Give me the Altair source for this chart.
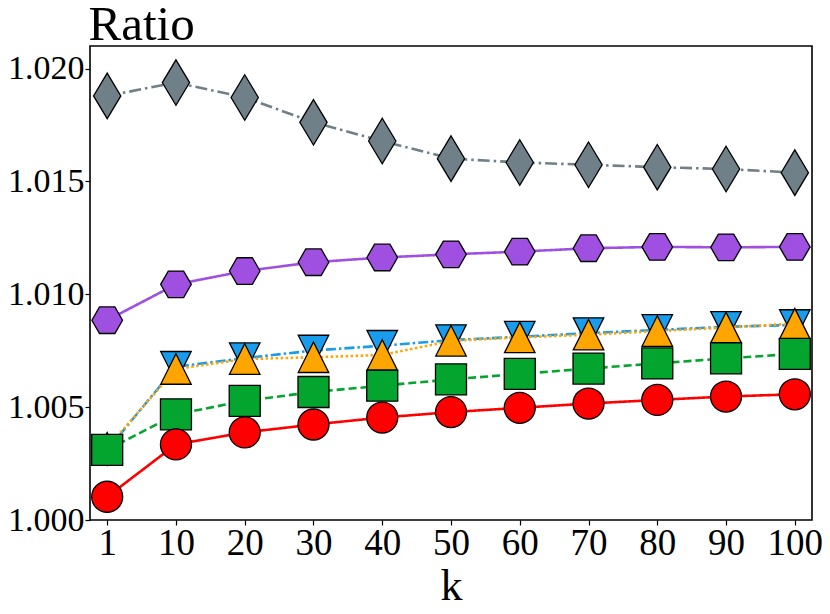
import altair as alt
import pandas as pd

k_labels = ["1", "10", "20", "30", "40", "50", "60", "70", "80", "90", "100"]
gray = [1.01879, 1.01938, 1.01872, 1.01762, 1.01679, 1.01601, 1.01584, 1.01574, 1.01563, 1.01555, 1.01539]
purple = [1.00885, 1.01044, 1.01103, 1.01142, 1.01163, 1.01177, 1.01189, 1.01204, 1.01210, 1.01208, 1.01210]
blue = [1.00310, 1.00679, 1.00717, 1.00751, 1.00772, 1.00797, 1.00812, 1.00828, 1.00842, 1.00856, 1.00864]
orange = [1.00320, 1.00669, 1.00713, 1.00721, 1.00731, 1.00794, 1.00809, 1.00821, 1.00837, 1.00853, 1.00870]
green = [1.00311, 1.00468, 1.00528, 1.00567, 1.00595, 1.00623, 1.00647, 1.00671, 1.00694, 1.00716, 1.00736]
red = [1.00103, 1.00335, 1.00388, 1.00423, 1.00454, 1.00478, 1.00497, 1.00516, 1.00532, 1.00547, 1.00557]

FONT = "Liberation Serif"

series = [
    # name, values, color, dash, shape, size
    ("gray", gray, "#708088", [12, 4, 2.5, 4], "M0,-1L0.6,0L0,1L-0.6,0Z", 2070),
    ("purple", purple, "#a050e0", [1, 0], "M-1,0L-0.5,-0.866L0.5,-0.866L1,0L0.5,0.866L-0.5,0.866Z", 940),
    ("blue", blue, "#1a9cec", [10, 3, 2.5, 3], "M0,1L1,-1L-1,-1Z", 930),
    ("orange", orange, "#ffa500", [2.5, 2.5], "M0,-1L1,1L-1,1Z", 930),
    ("green", green, "#04a52e", [8, 4], "square", 961),
    ("red", red, "#ff0000", [1, 0], "circle", 961),
]

x_enc = alt.X(
    "k:O",
    sort=k_labels,
    scale=alt.Scale(type="point", padding=0.25),
    axis=alt.Axis(
        title="k", labelAngle=0, labelFontSize=37, labelFont=FONT, labelColor="black",
        titleFontSize=44, titleFont=FONT, titleFontWeight="normal", titleColor="black",
        titlePadding=3, tickSize=5, tickColor="black", tickWidth=1.2, labelPadding=0,
        domain=False, grid=False,
    ),
)
y_enc = alt.Y(
    "v:Q",
    scale=alt.Scale(domain=[1.0, 1.021], nice=False, zero=False),
    axis=alt.Axis(
        title="Ratio", values=[1.000, 1.005, 1.010, 1.015, 1.020], format=".3f",
        labelFontSize=34, labelFont=FONT, labelColor="black", labelPadding=1,
        titleFontSize=49, titleFont=FONT, titleFontWeight="normal", titleColor="black",
        titleAngle=0, titleAlign="left", titleBaseline="alphabetic", titleX=-2, titleY=-6.5,
        tickSize=5, tickColor="black", tickWidth=1.2, domain=False, grid=False,
    ),
)

layers = []
for name, vals, color, dash, shape, size in series:
    df = pd.DataFrame({"k": k_labels, "v": vals})
    base = alt.Chart(df)
    line = base.mark_line(color=color, strokeWidth=2.6, strokeDash=dash).encode(x=x_enc, y=y_enc)
    pts = base.mark_point(
        shape=shape, size=size, filled=True, fill=color, fillOpacity=1,
        stroke="black", strokeWidth=1.3, opacity=1,
    ).encode(x=x_enc, y=y_enc)
    layers += [line, pts]

chart = alt.layer(*layers).properties(
    width=722, height=474,
    autosize=alt.AutoSizeParams(type="none"),
    padding={"left": 82, "top": 38, "right": 10, "bottom": 86},
).configure_view(stroke="black", strokeWidth=1.6)

chart.save("out.html", embed_options={"renderer": "svg", "actions": False})
